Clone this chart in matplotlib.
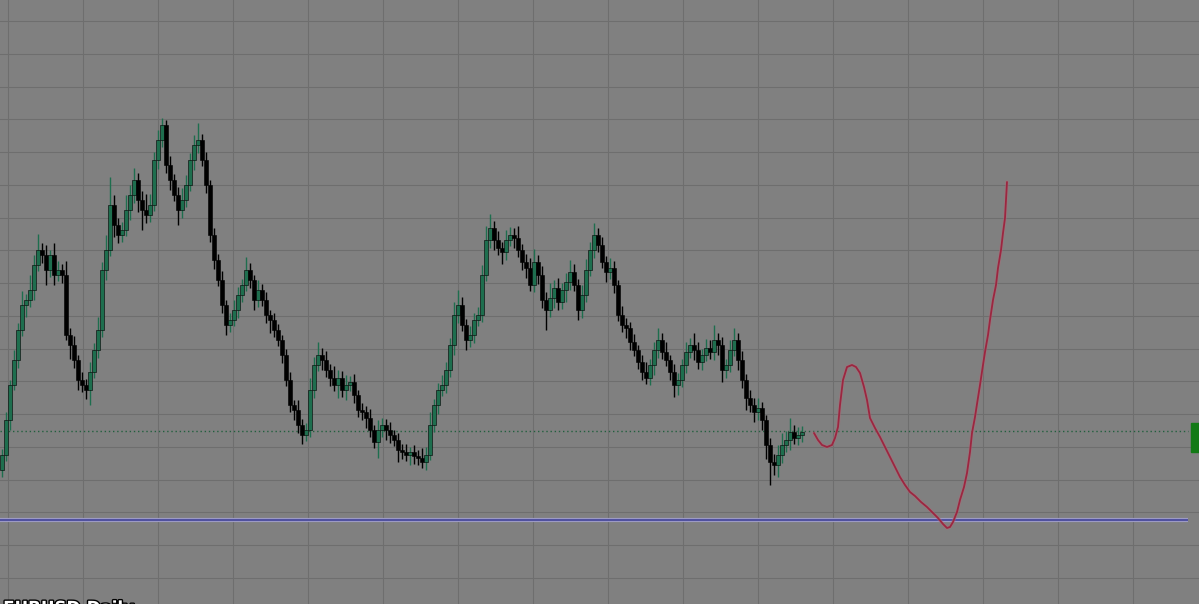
"""
Candlestick chart with a hand-drawn projection curve.
Prices are kept in screen-style units (larger value = lower on the chart).
"""

import numpy as np
import matplotlib
matplotlib.use("Agg")
import matplotlib.pyplot as plt
import matplotlib.patheffects as pe

# ─────────────────────────────────────────────
# Data
# ─────────────────────────────────────────────
first_open = 470

closes = [
    455, 420, 385, 360, 330, 305, 300, 290, 265, 250,
    255, 270, 255, 275, 270, 275, 335, 345, 360, 380,
    385, 390, 372, 350, 330, 270, 250, 205, 225, 235,
    230, 210, 195, 180, 200, 210, 215, 205, 160, 140,
    125, 165, 180, 195, 210, 200, 185, 160, 145, 140,
    160, 185, 235, 260, 280, 305, 325, 320, 310, 295,
    285, 270, 280, 300, 290, 300, 315, 320, 330, 340,
    355, 380, 405, 410, 425, 435, 430, 390, 365, 355,
    360, 370, 378, 385, 378, 390, 385, 382, 395, 410,
    412, 418, 430, 442, 430, 425, 430, 435, 440, 450,
    452, 455, 452, 456, 458, 462, 455, 425, 405, 390,
    385, 370, 345, 315, 305, 325, 340, 335, 320, 315,
    275, 240, 228, 240, 248, 252, 240, 235, 238, 250,
    262, 268, 285, 262, 275, 300, 310, 298, 288, 302,
    290, 282, 272, 285, 310, 295, 270, 250, 235, 245,
    262, 272, 268, 285, 315, 325, 328, 342, 350, 362,
    372, 378, 365, 350, 340, 352, 360, 372, 385, 380,
    365, 352, 345, 350, 362, 355, 348, 352, 340, 345,
    370, 365, 350, 340, 360, 380, 398, 405, 412, 408,
    420, 445, 462, 465, 455, 445, 440, 432, 438, 435,
    432,
]

upper_wick = [
    6, 8, 5, 10, 7, 14, 6, 15, 10, 16,
    7, 10, 5, 12, 9, 6, 14, 7, 9, 5,
    8, 6, 10, 7, 13, 8, 15, 28, 10, 7,
    8, 15, 10, 12, 7, 9, 16, 11, 8, 10,
    7, 5, 9, 6, 8, 12, 10, 7, 10, 17,
    6, 8, 5, 7, 6, 9, 5, 7, 10, 8,
    6, 13, 7, 5, 10, 6, 8, 5, 7, 6,
    5, 6, 8, 5, 10, 6, 7, 12, 8, 13,
    7, 9, 6, 12, 8, 7, 10, 6, 8, 5,
    7, 6, 9, 5, 10, 7, 6, 8, 5, 7,
    6, 8, 5, 7, 6, 10, 8, 13, 6, 7,
    10, 8, 7, 13, 15, 8, 6, 9, 7, 8,
    10, 14, 14, 7, 9, 6, 10, 8, 7, 12,
    6, 8, 10, 13, 7, 9, 8, 15, 8, 10,
    7, 9, 12, 8, 6, 10, 11, 8, 12, 7,
    8, 6, 10, 7, 5, 9, 7, 6, 8, 5,
    7, 10, 6, 8, 12, 7, 10, 5, 8, 7,
    6, 10, 7, 12, 8, 6, 9, 8, 15, 7,
    8, 6, 10, 12, 7, 9, 6, 8, 7, 10,
    6, 5, 7, 8, 10, 12, 9, 14, 7, 8,
    6,
]

lower_wick = [
    7, 6, 10, 5, 8, 6, 12, 7, 10, 6,
    8, 15, 7, 10, 6, 8, 5, 14, 8, 10,
    7, 9, 15, 6, 8, 7, 10, 6, 12, 8,
    7, 6, 10, 8, 12, 20, 8, 7, 6, 9,
    7, 8, 10, 6, 15, 8, 7, 6, 10, 8,
    6, 8, 7, 9, 6, 8, 10, 7, 6, 8,
    7, 6, 8, 10, 7, 6, 8, 13, 7, 6,
    8, 6, 7, 10, 8, 9, 6, 7, 8, 6,
    10, 7, 8, 6, 13, 7, 10, 6, 8, 7,
    8, 10, 7, 6, 16, 7, 10, 8, 6, 12,
    7, 6, 10, 8, 7, 6, 8, 5, 7, 9,
    6, 8, 7, 10, 8, 6, 10, 7, 8, 6,
    7, 6, 8, 10, 7, 12, 8, 6, 10, 7,
    8, 10, 6, 7, 9, 8, 20, 7, 10, 8,
    7, 12, 8, 6, 10, 8, 7, 6, 8, 7,
    6, 10, 7, 8, 6, 7, 10, 8, 6, 7,
    8, 6, 7, 10, 8, 7, 6, 8, 12, 10,
    7, 8, 6, 10, 7, 8, 6, 7, 8, 10,
    12, 8, 7, 6, 10, 8, 12, 7, 10, 8,
    10, 14, 23, 10, 12, 8, 7, 10, 6, 7,
    7,
]

# hand-drawn projection (bar index, price)
curve_x = [203.0, 204.0, 205.0, 206.25, 207.5, 208.25, 209.0, 209.5, 210.25,
           211.25, 212.5, 213.5, 214.5, 215.5, 216.25, 217.0, 218.25, 219.5,
           220.75, 222.0, 223.25, 224.5, 225.75, 227.0, 228.25, 229.75,
           231.25, 232.5, 234.0, 235.25, 236.25, 237.0, 237.75, 238.75,
           239.5, 240.5, 241.25, 242.0, 242.5, 243.25, 243.75, 244.5,
           245.25, 245.75, 246.5, 247.0, 247.75, 248.5, 249.0, 249.75,
           250.25, 250.75, 251.0, 251.25]
curve_y = [433, 440, 445, 447, 445, 438, 427, 405, 380,
           367, 365, 367, 373, 387, 400, 418, 428, 437,
           447, 457, 467, 477, 485, 492, 496, 502,
           507, 512, 518, 524, 528, 527, 522, 512,
           500, 487, 473, 452, 433, 417, 404, 385,
           365, 352, 335, 320, 300, 285, 268, 250,
           233, 218, 200, 182]

last_price = 431
support_level = 520

# ─────────────────────────────────────────────
# Plot
# ─────────────────────────────────────────────
BG = "#808080"
BULL = "#1e6e4e"
BEAR = "#000000"

opens = [first_open] + closes[:-1]
idx = np.arange(len(closes))
o = np.array(opens, dtype=float)
c = np.array(closes, dtype=float)
body_top = np.minimum(o, c)
body_bot = np.maximum(o, c)
highs = body_top - np.array(upper_wick)
lows = body_bot + np.array(lower_wick)
bull = c < o  # screen units: smaller value = higher price

fig = plt.figure(figsize=(11.99, 6.04), dpi=100)
fig.patch.set_facecolor(BG)
ax = fig.add_axes([0, 0, 1, 1])
ax.set_facecolor(BG)

ax.set_xlim(-0.5, 299.25)
ax.set_ylim(604, 0)

ax.set_xticks(np.arange(1.5, 300, 18.75))
ax.set_yticks(np.linspace(21, 578, 18))
ax.grid(True, color="#6e6e6e", linewidth=0.8)
ax.tick_params(length=0, labelbottom=False, labelleft=False)
for s in ax.spines.values():
    s.set_visible(False)
ax.set_axisbelow(True)

# price lines
ax.hlines(last_price, -0.5, 296.5, colors="#22603e", linestyles=(0, (1, 2)),
          linewidth=1.0, zorder=2)
ax.hlines(support_level, -0.5, 296.5, colors="#9c9ac4", linewidth=3.0, zorder=2)
ax.hlines(support_level, -0.5, 296.5, colors="#3a3c94", linewidth=1.1, zorder=2)

# wicks
wick_col = [BULL if b else BEAR for b in bull]
ax.vlines(idx, highs, lows, colors=wick_col, linewidth=1.0, zorder=3)

# bodies
heights = np.maximum(body_bot - body_top, 1.0)
body_col = [BULL if b else BEAR for b in bull]
ax.bar(idx, heights, bottom=body_top, width=0.8, color=body_col,
       edgecolor="black", linewidth=0.4, zorder=4)

# projection curve
ax.plot(curve_x, curve_y, color="#b06a78", linewidth=2.6, alpha=0.45,
        solid_capstyle="round", solid_joinstyle="round", zorder=5)
ax.plot(curve_x, curve_y, color="#9c2640", linewidth=1.3,
        solid_capstyle="round", solid_joinstyle="round", zorder=6)

# price marker on the right edge
ax.add_patch(plt.Rectangle((297.25, 423), 2.2, 29, color="#137a16",
                           zorder=7, clip_on=False))

# symbol label, mostly below the frame (as in the source screenshot)
txt = ax.text(0.3, 599, "EURUSD,Daily", color="white", fontsize=12,
              fontweight="bold", ha="left", va="top", zorder=8)
txt.set_path_effects([pe.withStroke(linewidth=2, foreground="black")])

plt.savefig("out.png", dpi=100, facecolor=BG)
plt.close()
